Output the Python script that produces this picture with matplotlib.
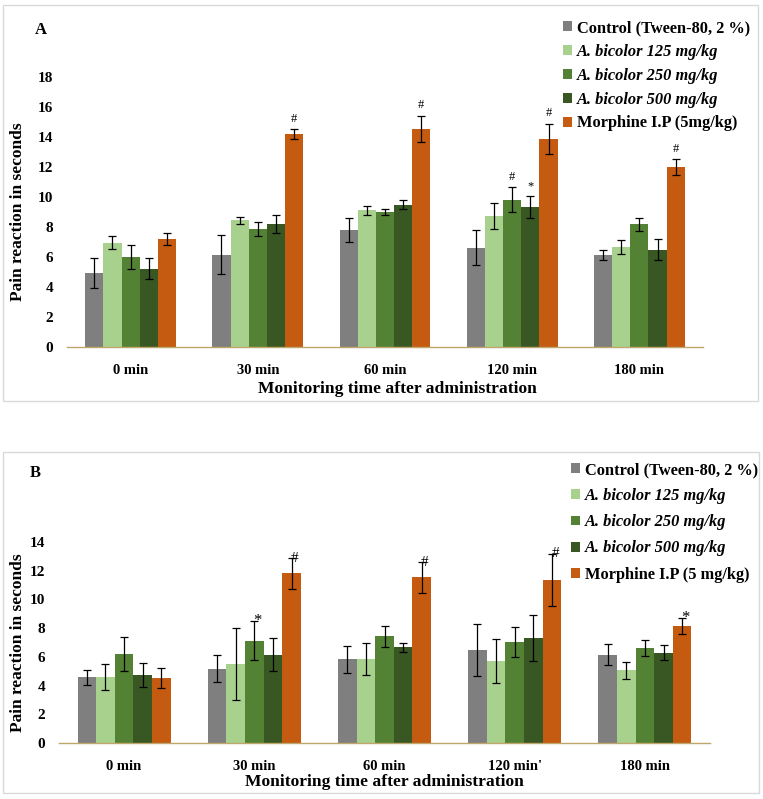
import matplotlib.pyplot as plt
import numpy as np
from matplotlib.patches import Patch, Rectangle

plt.rcParams['font.family'] = ['Liberation Serif', 'DejaVu Serif']
plt.rcParams['font.weight'] = 'bold'

times = ["0 min", "30 min", "60 min", "120 min", "180 min"]
times_b = ["0 min", "30 min", "60 min", "120 min'", "180 min"]

groups_a = ["Control (Tween-80, 2 %)", "A. bicolor 125 mg/kg", "A. bicolor 250 mg/kg",
            "A. bicolor 500 mg/kg", "Morphine I.P (5mg/kg)"]
groups_b = ["Control (Tween-80, 2 %)", "A. bicolor 125 mg/kg", "A. bicolor 250 mg/kg",
            "A. bicolor 500 mg/kg", "Morphine I.P (5 mg/kg)"]
colors = ["#7f7f7f", "#a9d18e", "#548235", "#385723", "#c55a11"]

# panel A means / errors (rows = groups, cols = times)
mean_a = [
    [4.93, 6.16, 7.78, 6.62, 6.13],
    [6.96, 8.44, 9.12, 8.71, 6.67],
    [6.00, 7.87, 9.01, 9.82, 8.18],
    [5.22, 8.18, 9.50, 9.33, 6.49],
    [7.22, 14.18, 14.53, 13.89, 12.00],
]
err_a = [
    [0.98, 1.32, 0.81, 1.18, 0.36],
    [0.42, 0.24, 0.31, 0.87, 0.44],
    [0.77, 0.44, 0.20, 0.84, 0.44],
    [0.69, 0.59, 0.33, 0.71, 0.71],
    [0.40, 0.33, 0.89, 0.99, 0.53],
]
# (time index, group index, symbol)
marks_a = [(1, 4, "#"), (2, 4, "#"), (3, 2, "#"), (3, 3, "*"), (3, 4, "#"), (4, 4, "#")]

# panel B
mean_b = [
    [4.57, 5.17, 5.83, 6.46, 6.16],
    [4.61, 5.51, 5.83, 5.70, 5.07],
    [6.18, 7.13, 7.43, 7.03, 6.64],
    [4.75, 6.16, 6.67, 7.31, 6.30],
    [4.50, 11.81, 11.53, 11.35, 8.16],
]
err_b = [
    [0.50, 0.95, 0.93, 1.81, 0.75],
    [0.91, 2.51, 1.12, 1.55, 0.58],
    [1.19, 1.38, 0.71, 1.07, 0.55],
    [0.82, 1.16, 0.33, 1.60, 0.55],
    [0.69, 1.05, 1.06, 1.84, 0.55],
]
marks_b = [(1, 2, "*"), (1, 4, "#"), (2, 4, "#"), (3, 4, "#"), (4, 4, "*")]

W, H = 763, 799
fig = plt.figure(figsize=(W / 100, H / 100), dpi=100)


def px(x0, y0, x1, y1):
    # pixel box -> figure fraction rect
    return [x0 / W, 1 - y1 / H, (x1 - x0) / W, (y1 - y0) / H]


def draw_panel(ax, means, errs, ticks, ymax, step, marks, inside):
    n = len(means)
    width = 0.143
    x = np.arange(len(ticks))
    for i in range(n):
        ax.bar(x + (i - 2) * width, means[i], width, color=colors[i],
               yerr=errs[i], capsize=3,
               error_kw=dict(ecolor="black", elinewidth=0.9, capthick=0.9))
    for t, g, sym in marks:
        xx = t + (g - 2) * width
        top = means[g][t] + errs[g][t]
        if inside:
            ax.text(xx + 0.025, top, sym, ha="center", va="center",
                    fontsize=12 if sym == "*" else 11, fontweight="normal")
        else:
            ax.text(xx, top + 0.3, sym, ha="center", va="bottom",
                    fontsize=9, fontweight="normal")
    ax.set_xlim(-0.5, len(ticks) - 0.5)
    ax.set_ylim(0, ymax)
    ax.set_yticks(np.arange(0, ymax + 0.1, step))
    ax.set_xticks(x)
    ax.set_xticklabels(ticks)
    ax.tick_params(axis="both", length=0)
    ax.tick_params(axis="x", pad=12, labelsize=10.5)
    ax.tick_params(axis="y", pad=10, labelsize=11)
    for s in ["top", "right", "left"]:
        ax.spines[s].set_visible(False)
    ax.spines["bottom"].set_color("#bfa66b")
    ax.spines["bottom"].set_linewidth(1.0)
    ax.set_ylabel("Pain reaction in seconds", fontsize=12.5, fontweight="bold")
    ax.set_xlabel("Monitoring time after administration", fontsize=12.6,
                  fontweight="bold")


def add_legend(ax, labels, x, y, spacing):
    handles = [Patch(facecolor=c, edgecolor="none") for c in colors]
    leg = ax.legend(handles, labels, loc="upper left", bbox_to_anchor=(x, y),
                    bbox_transform=fig.transFigure, frameon=False, fontsize=11.8,
                    handlelength=0.55, handleheight=0.55, handletextpad=0.3,
                    labelspacing=spacing, borderpad=0, borderaxespad=0)
    for t in leg.get_texts():
        if t.get_text().startswith("A. bicolor"):
            t.set_fontstyle("italic")


# panel frames
for box in [(3, 5, 758, 401), (3, 452, 759, 793)]:
    fig.patches.append(Rectangle((box[0] / W, 1 - box[3] / H), (box[2] - box[0]) / W,
                                 (box[3] - box[1]) / H, transform=fig.transFigure,
                                 fill=False, edgecolor="#d9d9d9", linewidth=1))

ax1 = fig.add_axes(px(67, 77, 703, 347))
draw_panel(ax1, mean_a, err_a, times, 18, 2, marks_a, inside=False)
ax1.yaxis.set_label_coords(-0.064, 0.5)
ax1.xaxis.set_label_coords(0.52, -0.126)
add_legend(ax1, groups_a, 563 / W, 1 - 20 / H, 0.48)
fig.text(35 / W, 1 - 30 / H, "A", fontsize=12, va="center", ha="left")

ax2 = fig.add_axes(px(59, 542, 710, 743))
draw_panel(ax2, mean_b, err_b, times_b, 14, 2, marks_b, inside=True)
ax2.yaxis.set_label_coords(-0.051, 0.5)
ax2.xaxis.set_label_coords(0.5, -0.154)
add_legend(ax2, groups_b, 571 / W, 1 - 462 / H, 0.62)
fig.text(30 / W, 1 - 473 / H, "B", fontsize=12, va="center", ha="left")

fig.savefig("out.png", dpi=100)
